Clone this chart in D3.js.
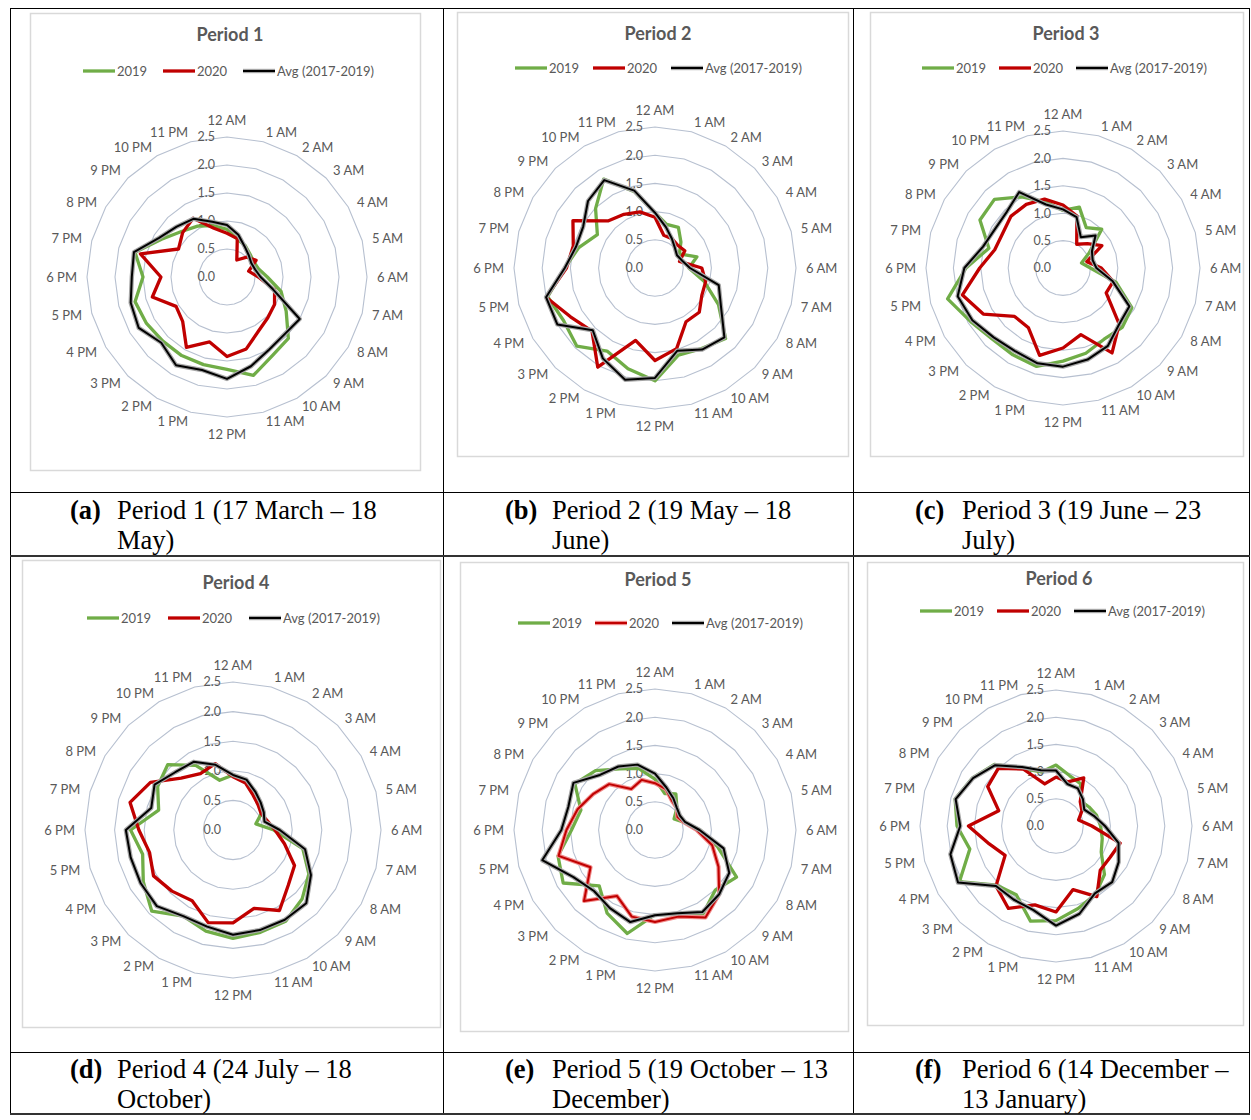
<!DOCTYPE html>
<html>
<head>
<meta charset="utf-8">
<script src="https://cdnjs.cloudflare.com/ajax/libs/d3/7.8.5/d3.min.js"></script>
<style>
  body { margin: 0; background: #fff; }
  svg { display: block; }
</style>
</head>
<body>
<svg id="fig" width="1251" height="1120"></svg>
<script>
// categories round the dial (12 AM at the top, clockwise)
var hours = ["12 AM", "1 AM", "2 AM", "3 AM", "4 AM", "5 AM", "6 AM", "7 AM", "8 AM", "9 AM", "10 AM", "11 AM",
  "12 PM", "1 PM", "2 PM", "3 PM", "4 PM", "5 PM", "6 PM", "7 PM", "8 PM", "9 PM", "10 PM", "11 PM"];
var ticks = [0, 0.5, 1, 1.5, 2, 2.5];
var seriesNames = ["2019", "2020", "Avg (2017-2019)"];
var titles = ["Period 1", "Period 2", "Period 3", "Period 4", "Period 5", "Period 6"];
var capLetters = ["(a)", "(b)", "(c)", "(d)", "(e)", "(f)"];
var capLine1 = ["Period 1 (17 March \u2013 18", "Period 2 (19 May \u2013 18", "Period 3 (19 June \u2013 23",
  "Period 4 (24 July \u2013 18", "Period 5 (19 October \u2013 13", "Period 6 (14 December \u2013"];
var capLine2 = ["May)", "June)", "July)", "October)", "December)", "13 January)"];

// values per hour
var p1_2019 = [0.85, 0.70, 0.65, 0.58, 0.55, 0.58, 0.72, 1.00, 1.22, 1.55, 1.62, 1.82, 1.65, 1.62, 1.62, 1.62, 1.66, 1.70, 1.50, 1.70, 1.35, 1.15, 1.05, 0.95];
var p1_2020 = [0.78, 0.71, 0.35, 0.50, 0.60, 0.40, 0.56, 0.88, 0.98, 1.03, 1.12, 1.33, 1.42, 1.20, 1.45, 1.12, 1.05, 1.38, 1.18, 1.60, 1.00, 1.12, 1.21, 0.90];
var p1_avg = [0.93, 0.78, 0.63, 0.55, 0.50, 0.52, 0.60, 0.85, 1.50, 1.45, 1.50, 1.65, 1.82, 1.72, 1.82, 1.66, 1.82, 1.78, 1.70, 1.72, 1.40, 1.27, 1.20, 1.02];

var p2_2019 = [0.98, 0.80, 0.83, 0.65, 0.50, 0.77, 0.60, 0.90, 1.30, 1.77, 1.65, 1.60, 2.00, 1.85, 1.70, 1.96, 1.87, 1.97, 1.60, 1.40, 1.18, 1.49, 1.82, 1.40];
var p2_2020 = [0.90, 0.60, 0.60, 0.57, 0.61, 0.45, 0.83, 0.93, 0.96, 1.11, 1.10, 1.48, 1.64, 1.33, 2.03, 1.58, 1.73, 2.00, 1.57, 1.50, 1.68, 1.18, 1.10, 1.03];
var p2_avg = [0.98, 0.75, 0.60, 0.50, 0.45, 0.50, 0.62, 1.17, 1.35, 1.74, 1.67, 1.52, 1.95, 2.05, 1.85, 1.56, 2.00, 2.00, 1.60, 1.45, 1.47, 1.68, 1.80, 1.42];

var p3_2019 = [1.05, 1.15, 0.85, 1.00, 0.55, 0.35, 0.50, 1.00, 1.45, 1.53, 1.50, 1.61, 1.70, 1.86, 1.83, 1.83, 1.95, 2.18, 1.77, 1.40, 1.75, 1.77, 1.50, 1.25];
var p3_2020 = [1.15, 0.98, 0.50, 0.63, 0.82, 0.45, 0.70, 0.95, 0.91, 1.45, 1.79, 1.26, 1.46, 1.65, 1.26, 1.25, 1.68, 1.90, 1.52, 1.29, 1.27, 1.34, 1.34, 1.30];
var p3_avg = [1.07, 0.96, 0.65, 0.84, 0.61, 0.56, 0.61, 0.94, 1.40, 1.45, 1.64, 1.73, 1.80, 1.80, 1.75, 1.79, 1.91, 1.99, 1.80, 1.51, 1.43, 1.45, 1.60, 1.20];

var p4_2019 = [0.93, 0.85, 0.75, 0.66, 0.55, 0.40, 0.69, 1.22, 1.48, 1.65, 1.78, 1.79, 1.83, 1.77, 1.68, 1.94, 1.75, 1.58, 1.73, 1.30, 1.47, 1.56, 1.26, 0.87];
var p4_2020 = [0.90, 0.82, 0.68, 0.60, 0.55, 0.60, 0.71, 0.90, 1.20, 1.32, 1.57, 1.37, 1.57, 1.62, 1.38, 1.46, 1.55, 1.46, 1.59, 1.80, 1.61, 1.24, 1.10, 1.16];
var p4_avg = [0.93, 0.88, 0.75, 0.66, 0.60, 0.55, 0.79, 1.26, 1.52, 1.75, 1.75, 1.75, 1.77, 1.69, 1.68, 1.82, 1.80, 1.79, 1.81, 1.43, 1.53, 1.38, 1.33, 1.14];

var p5_2019 = [0.90, 0.67, 0.74, 0.55, 0.39, 0.53, 0.80, 1.15, 1.67, 1.51, 1.71, 1.55, 1.50, 1.90, 1.70, 1.40, 1.88, 1.78, 1.48, 1.36, 1.64, 1.49, 1.25, 1.13];
var p5_2020 = [0.83, 0.75, 0.60, 0.55, 0.46, 0.53, 0.74, 1.05, 1.30, 1.61, 1.79, 1.59, 1.63, 1.59, 1.35, 1.78, 1.32, 1.77, 1.57, 1.42, 1.27, 1.15, 0.84, 0.92];
var p5_avg = [1.00, 0.78, 0.65, 0.55, 0.51, 0.55, 0.79, 1.26, 1.52, 1.61, 1.68, 1.53, 1.51, 1.69, 1.60, 1.53, 1.67, 2.07, 1.66, 1.59, 1.67, 1.38, 1.30, 1.20];

var p6_2019 = [1.12, 0.96, 0.90, 0.65, 0.70, 0.77, 0.82, 0.88, 0.96, 1.26, 1.45, 1.57, 1.74, 1.81, 1.46, 1.54, 2.05, 1.64, 1.82, 1.92, 1.77, 1.60, 1.22, 1.03];
var p6_2020 = [0.90, 0.84, 1.02, 0.63, 0.55, 0.43, 0.66, 1.22, 1.15, 1.15, 1.50, 1.21, 1.58, 1.50, 1.75, 1.56, 1.08, 1.27, 1.61, 1.09, 1.45, 1.50, 1.21, 0.80];
var p6_avg = [1.02, 0.80, 0.80, 0.70, 0.60, 0.72, 0.90, 1.19, 1.33, 1.46, 1.43, 1.67, 1.83, 1.60, 1.56, 1.56, 2.08, 2.01, 1.76, 1.91, 1.76, 1.58, 1.25, 1.06];

// where each chart sits on the page
var panels = [
  { cx: 227, cy: 277, R: 140, box: [30, 13, 420, 470], titleY: 35, legY: 71, legX: 83, legStep: 80, data: [p1_2019, p1_2020, p1_avg] },
  { cx: 655, cy: 268, R: 141, box: [457, 12, 848, 456], titleY: 34, legY: 68, legX: 515, legStep: 78, data: [p2_2019, p2_2020, p2_avg] },
  { cx: 1063, cy: 268, R: 137, box: [870, 12, 1243, 456], titleY: 34, legY: 68, legX: 922, legStep: 77, data: [p3_2019, p3_2020, p3_avg] },
  { cx: 233, cy: 830, R: 148, box: [22, 560, 440, 1027], titleY: 583, legY: 618, legX: 87, legStep: 81, data: [p4_2019, p4_2020, p4_avg] },
  { cx: 655, cy: 830, R: 141, box: [460, 562, 848, 1031], titleY: 580, legY: 623, legX: 518, legStep: 77, halo2020: true, data: [p5_2019, p5_2020, p5_avg] },
  { cx: 1056, cy: 826, R: 136, box: [867, 562, 1243, 1025], titleY: 579, legY: 611, legX: 920, legStep: 77, data: [p6_2019, p6_2020, p6_avg] }
];

var colors = ["#70ad47", "#c00000", "#000000"];
var labelGrey = "#595959";
var svg = d3.select("#fig");
var angle = d3.scaleLinear().domain([0, hours.length]).range([0, 2 * Math.PI]);

// table frame
var vLines = [10.5, 443.5, 853.5, 1249.5];
vLines.forEach(function (x) {
  svg.append("line").attr("x1", x).attr("x2", x).attr("y1", 8).attr("y2", 1114)
    .attr("stroke", "#000").attr("stroke-width", 1);
});
[[8.5, 1, "#000"], [492.5, 1, "#000"], [556, 2, "#333"], [1052.5, 1, "#000"], [1114, 2, "#333"]].forEach(function (h) {
  svg.append("line").attr("x1", 10).attr("x2", 1250).attr("y1", h[0]).attr("y2", h[0])
    .attr("stroke", h[2]).attr("stroke-width", h[1]);
});

function drawSeries(g, vals, r, k, halo) {
  var line = d3.lineRadial()
    .angle(function (d, i) { return angle(i); })
    .radius(function (d) { return r(d); })
    .curve(d3.curveLinearClosed);
  if (k === 2) {
    g.append("path").attr("d", line(vals)).attr("fill", "none")
      .attr("stroke", "#a6a6a6").attr("stroke-width", 4.4).attr("stroke-linejoin", "round");
    g.append("path").attr("d", line(vals)).attr("fill", "none")
      .attr("stroke", "#000").attr("stroke-width", 2).attr("stroke-linejoin", "round");
  } else if (k === 1 && halo) {
    g.append("path").attr("d", line(vals)).attr("fill", "none")
      .attr("stroke", "#f08a8a").attr("stroke-width", 4.2).attr("stroke-linejoin", "round");
    g.append("path").attr("d", line(vals)).attr("fill", "none")
      .attr("stroke", "#c00000").attr("stroke-width", 2).attr("stroke-linejoin", "round");
  } else {
    g.append("path").attr("d", line(vals)).attr("fill", "none")
      .attr("stroke", colors[k]).attr("stroke-width", 3.3).attr("stroke-linejoin", "round");
  }
}

panels.forEach(function (p, n) {
  // chart area box
  svg.append("rect").attr("x", p.box[0] + 0.5).attr("y", p.box[1] + 0.5)
    .attr("width", p.box[2] - p.box[0]).attr("height", p.box[3] - p.box[1])
    .attr("fill", "#fff").attr("stroke", "#d9d9d9").attr("stroke-width", 1.5);

  svg.append("text").attr("x", p.cx + 3).attr("y", p.titleY).attr("dy", "0.35em")
    .attr("text-anchor", "middle").attr("font-family", "Lato, sans-serif")
    .attr("font-weight", "bold").attr("font-size", 18).attr("fill", labelGrey)
    .text(titles[n]);

  // legend
  seriesNames.forEach(function (name, k) {
    var x0 = p.legX + k * p.legStep;
    if (k === 2 || (k === 1 && p.halo2020)) {
      svg.append("line").attr("x1", x0).attr("x2", x0 + 32).attr("y1", p.legY).attr("y2", p.legY)
        .attr("stroke", k === 2 ? "#a6a6a6" : "#f08a8a").attr("stroke-width", 4.4);
      svg.append("line").attr("x1", x0).attr("x2", x0 + 32).attr("y1", p.legY).attr("y2", p.legY)
        .attr("stroke", colors[k]).attr("stroke-width", 2);
    } else {
      svg.append("line").attr("x1", x0).attr("x2", x0 + 32).attr("y1", p.legY).attr("y2", p.legY)
        .attr("stroke", colors[k]).attr("stroke-width", 3.3);
    }
    svg.append("text").attr("x", x0 + 34).attr("y", p.legY).attr("dy", "0.35em")
      .attr("font-family", "Lato, sans-serif").attr("font-size", 13).attr("fill", labelGrey)
      .text(name);
  });

  var g = svg.append("g").attr("transform", "translate(" + p.cx + "," + p.cy + ")");
  var r = d3.scaleLinear().domain([0, 2.5]).range([0, p.R]);

  // rings
  var ring = d3.lineRadial().angle(function (d, i) { return angle(i); }).curve(d3.curveLinearClosed);
  ticks.slice(1).forEach(function (t) {
    g.append("path").attr("d", ring.radius(r(t))(hours)).attr("fill", "none")
      .attr("stroke", "#b7c0d0").attr("stroke-width", 1.1);
  });

  // value labels along the 12 AM axis
  g.selectAll("text.tick").data(ticks).enter().append("text").attr("class", "tick")
    .attr("x", -12).attr("y", function (d) { return -r(d); }).attr("dy", "0.35em")
    .attr("text-anchor", "end").attr("font-family", "Lato, sans-serif")
    .attr("font-size", 12.5).attr("fill", labelGrey)
    .text(function (d) { return d3.format(".1f")(d); });

  // hour labels, anchored on the side they sit
  hours.forEach(function (h, i) {
    var th = angle(i), sx = Math.sin(th), cy = -Math.cos(th);
    var D = p.R + 10;
    var anchor = Math.abs(sx) < 0.01 ? "middle" : (sx > 0 ? "start" : "end");
    var yOff = Math.abs(sx) < 0.01 ? cy * 7 : 0;
    g.append("text").attr("text-anchor", anchor).attr("dy", "0.35em")
      .attr("x", D * sx).attr("y", D * cy + yOff)
      .attr("font-family", "Lato, sans-serif").attr("font-size", 13).attr("fill", labelGrey)
      .text(h);
  });

  p.data.forEach(function (vals, k) { drawSeries(g, vals, r, k, p.halo2020); });

  // caption under the chart
  var col = n % 3, row = Math.floor(n / 3);
  var tx = [117, 552, 962][col];
  var by = [519, 1078][row];
  svg.append("text").attr("x", tx - 47).attr("y", by)
    .attr("font-family", "Liberation Serif, Times New Roman, serif").attr("font-weight", "bold")
    .attr("font-size", 26.5).attr("fill", "#000").text(capLetters[n]);
  svg.append("text").attr("x", tx).attr("y", by)
    .attr("font-family", "Liberation Serif, Times New Roman, serif")
    .attr("font-size", 26.5).attr("fill", "#000").text(capLine1[n]);
  svg.append("text").attr("x", tx).attr("y", by + 30)
    .attr("font-family", "Liberation Serif, Times New Roman, serif")
    .attr("font-size", 26.5).attr("fill", "#000").text(capLine2[n]);
});
</script>
</body>
</html>
